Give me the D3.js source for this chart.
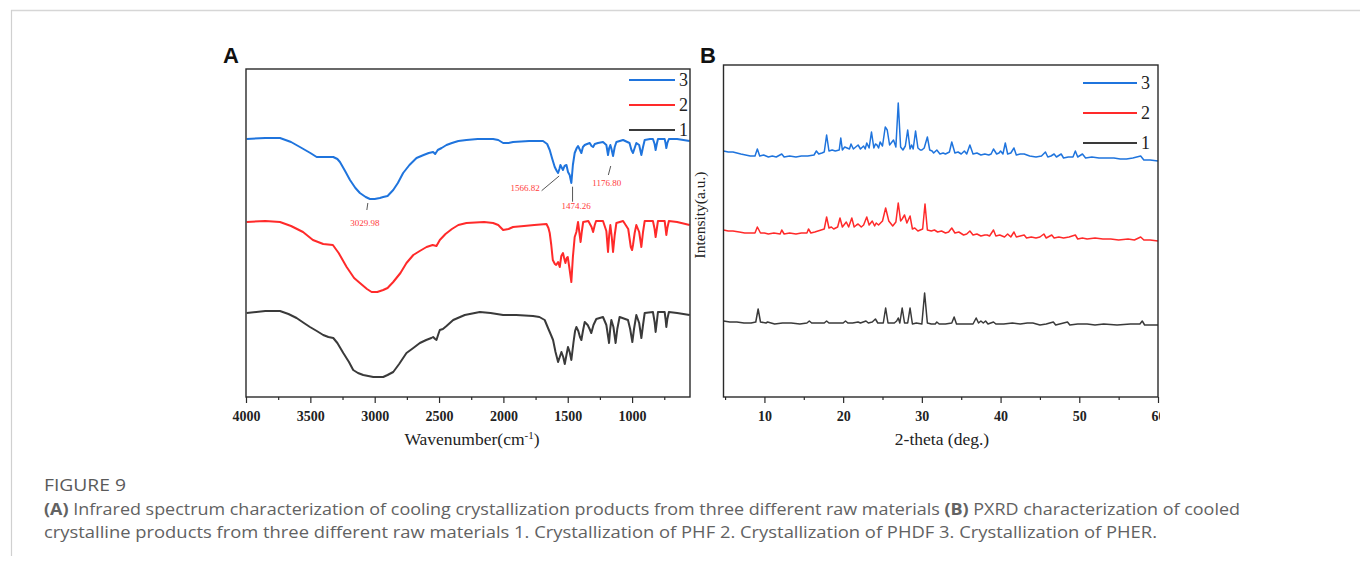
<!DOCTYPE html>
<html><head><meta charset="utf-8">
<script src="https://cdn.jsdelivr.net/npm/d3@7"></script>
<style>
html,body{margin:0;padding:0;background:#fff;}
svg{display:block;}
</style></head>
<body>
<svg id="chart" width="1360" height="563"></svg>
<script>
// ---------------- DATA ----------------
// Panel A: FT-IR spectra, [wavenumber (cm-1), intensity (a.u., offset)]
const irSeries3 = [[3995,258],[3850,259],[3736,259],[3650,255],[3581,250],[3500,244],[3451,240],[3380,240],[3322,240],[3290,238],[3270,235],[3230,226],[3192,217],[3150,209],[3115,204],[3070,200],[3037,198],[3000,198],[2960,199],[2934,200],[2900,201],[2856,207],[2820,214],[2779,224],[2730,232],[2675,239],[2620,242],[2580,244],[2546,245],[2530,243],[2510,247],[2480,249],[2442,252],[2400,254],[2350,256],[2287,257],[2200,258],[2080,258],[2040,257],[2002,254],[1960,254],[1925,255],[1800,256],[1692,256],[1660,253],[1640,247],[1620,238],[1601,230],[1585,226],[1575,224],[1565,228],[1557,232],[1545,229],[1537,227],[1525,231],[1510,232],[1498,225],[1485,222],[1472,214],[1460,232],[1446,244],[1430,249],[1420,251],[1405,247],[1394,244],[1382,250],[1368,252],[1350,253],[1329,254],[1315,251],[1303,250],[1290,253],[1265,254],[1226,255],[1200,252],[1187,242],[1178,249],[1169,252],[1160,248],[1148,241],[1135,250],[1122,255],[1070,257],[1020,254],[1005,247],[993,244],[980,249],[967,254],[945,252],[928,242],[915,250],[902,257],[860,258],[838,258],[825,253],[817,247],[808,253],[799,258],[760,258],[747,258],[740,254],[734,249],[726,254],[714,258],[650,258],[553,256]];
const irSeries2 = [[3995,175],[3850,176],[3736,175],[3650,171],[3557,165],[3480,157],[3400,153],[3325,152],[3280,144],[3218,130],[3160,119],[3115,114],[3060,108],[3024,105],[2980,105],[2934,107],[2900,109],[2856,115],[2800,124],[2753,134],[2700,142],[2650,146],[2597,150],[2550,152],[2520,151],[2494,157],[2450,163],[2400,168],[2350,172],[2287,174],[2150,175],[2080,174],[2040,172],[2002,167],[1960,168],[1925,170],[1840,171],[1760,172],[1665,173],[1650,169],[1640,164],[1628,152],[1616,137],[1600,133],[1590,132],[1575,135],[1562,130],[1550,141],[1537,144],[1528,139],[1518,134],[1508,139],[1500,140],[1486,128],[1472,115],[1460,140],[1446,160],[1433,165],[1420,175],[1410,165],[1400,155],[1390,166],[1380,175],[1340,176],[1315,170],[1303,165],[1290,172],[1280,176],[1226,176],[1200,166],[1187,145],[1178,162],[1169,172],[1158,160],[1148,145],[1135,162],[1122,174],[1070,176],[1030,168],[1010,150],[1000,147],[993,152],[980,164],[967,172],[945,165],[928,150],[915,165],[902,176],[838,176],[825,168],[817,160],[808,168],[799,176],[747,176],[740,169],[734,162],[726,169],[714,176],[650,175],[553,172]];
const irSeries1 = [[3995,84],[3850,86],[3736,86],[3670,83],[3607,79],[3550,74],[3503,70],[3450,66],[3400,62],[3360,60],[3322,59],[3290,54],[3244,44],[3200,35],[3167,27],[3130,24],[3089,22],[3050,21],[3011,20],[2970,20],[2934,20],[2900,22],[2856,25],[2810,33],[2753,44],[2700,49],[2649,54],[2600,57],[2560,59],[2546,60],[2530,58],[2520,57],[2505,63],[2494,67],[2470,68],[2442,71],[2390,77],[2300,82],[2183,85],[2100,84],[2002,82],[1900,82],[1770,81],[1720,80],[1679,77],[1650,68],[1630,62],[1614,57],[1595,45],[1575,35],[1562,40],[1549,45],[1535,40],[1523,33],[1510,42],[1498,50],[1485,45],[1472,37],[1455,55],[1443,66],[1433,70],[1418,66],[1405,60],[1394,57],[1382,66],[1368,75],[1345,72],[1330,68],[1317,64],[1300,72],[1278,78],[1226,80],[1200,72],[1179,54],[1170,68],[1161,77],[1145,70],[1128,54],[1115,68],[1097,80],[1032,77],[1015,68],[998,55],[985,68],[967,82],[945,74],[928,59],[915,72],[902,84],[838,85],[825,75],[817,65],[808,75],[799,85],[747,85],[740,78],[734,70],[726,78],[714,85],[650,84],[553,82]];

// Panel B: PXRD patterns, [2-theta (deg), intensity (a.u., offset)]
const xrdSeries3 = [[4.8,246],[5.4,245],[6,245],[6.5,244],[7,243],[7.6,242],[8.2,241],[8.8,241],[9.1,248],[9.4,241],[9.9,242],[10.5,240],[11.0,241],[11.5,240],[12.2,243],[12.5,240],[13.2,241],[14,240],[14.7,241],[15.5,241],[16.3,242],[16.6,246],[16.9,243],[17.3,244],[17.6,245],[17.9,262],[18.2,246],[18.6,247],[19,246],[19.5,247],[19.7,259],[19.9,247],[20.2,250],[20.5,249],[20.8,248],[21.0,253],[21.3,248],[21.6,250],[21.9,252],[22.2,248],[22.6,251],[22.8,248],[23.0,254],[23.3,249],[23.6,265],[23.9,249],[24.1,253],[24.3,252],[24.5,249],[24.7,255],[25.0,251],[25.35,270],[25.6,267],[25.9,252],[26.1,254],[26.4,257],[26.7,250],[27.0,294],[27.3,250],[27.6,247],[27.9,251],[28.2,267],[28.5,248],[28.7,252],[28.9,248],[29.2,266],[29.5,249],[29.8,247],[30.0,247],[30.3,249],[30.7,260],[31.0,247],[31.3,246],[31.5,244],[31.9,247],[32.3,243],[32.7,244],[33.0,243],[33.5,245],[33.8,255],[34.2,244],[34.6,245],[35.0,243],[35.4,246],[35.7,243],[36.1,252],[36.5,243],[37.0,244],[37.5,242],[38.0,243],[38.5,242],[38.8,243],[39.1,248],[39.5,243],[39.8,244],[40.0,246],[40.3,243],[40.6,254],[40.9,243],[41.3,244],[41.7,249],[42.0,242],[42.5,243],[43.0,243],[43.7,241],[44.5,240],[45.2,241],[45.7,245],[46.0,240],[46.4,241],[46.8,243],[47.1,240],[47.7,243],[48.0,239],[48.6,240],[49.2,240],[49.5,246],[49.8,240],[50.4,243],[50.8,239],[51.6,240],[52.5,239],[53.3,239],[54.4,239],[55.2,238],[56,238],[56.8,239],[57.8,241],[58.2,237],[59.0,237],[60,236]];
const xrdSeries2 = [[4.8,167],[5.4,166],[6,166],[6.8,165],[7.5,164],[8.2,164],[8.8,164],[9.1,170],[9.5,164],[10.0,164],[10.5,163],[11.2,164],[12.0,163],[12.2,167],[12.5,163],[13.2,164],[14,163],[14.7,164],[15.4,164],[15.6,168],[15.9,164],[16.4,165],[16.8,166],[17.2,167],[17.6,168],[17.9,180],[18.2,169],[18.5,170],[18.8,168],[19.3,170],[19.6,179],[19.9,170],[20.1,172],[20.4,175],[20.7,170],[21.1,179],[21.4,170],[21.7,172],[21.9,173],[22.3,170],[22.6,172],[23.0,180],[23.3,172],[23.7,176],[24.0,171],[24.2,174],[24.5,172],[25.0,176],[25.4,189],[25.8,176],[26.0,174],[26.3,171],[26.7,175],[27.0,194],[27.3,176],[27.5,178],[27.8,182],[28.1,174],[28.5,181],[28.8,168],[29.1,169],[29.5,166],[29.8,167],[30.1,168],[30.4,193],[30.7,167],[31.2,166],[31.6,167],[32,165],[32.5,166],[33.0,164],[33.4,165],[33.8,169],[34.2,164],[34.7,165],[35.3,162],[35.7,163],[36.1,166],[36.5,162],[37.0,163],[37.5,161],[38.0,162],[38.3,162],[38.6,161],[39.1,167],[39.4,161],[39.9,162],[40.5,160],[40.9,163],[41.3,160],[41.7,165],[42.0,160],[42.5,161],[43.0,162],[43.3,159],[43.9,160],[44.5,159],[45.0,160],[45.5,163],[45.8,159],[46.5,162],[46.8,159],[47.4,160],[48,159],[48.7,160],[49.5,162],[49.8,158],[50.4,159],[51,158],[52,159],[53,158],[54,158],[55,157],[56.2,158],[57.0,157],[57.8,160],[58.2,157],[59,157],[60,156]];
const xrdSeries1 = [[4.8,76],[5.6,75],[6.5,75],[7.4,74],[8.3,74],[8.9,75],[9.2,88],[9.5,75],[10.2,74],[10.4,75],[11.3,73],[12.3,74],[13.4,74],[14.5,73],[15.4,74],[15.7,76],[16.0,74],[16.8,74],[17.6,74],[17.9,76],[18.2,74],[19.0,74],[20.0,74],[20.3,76],[20.6,74],[21.2,74],[21.9,75],[22.2,74],[22.9,76],[23.2,74],[23.7,75],[24.1,78],[24.4,74],[25.1,74],[25.4,89],[25.7,74],[26.1,74],[26.5,74],[26.8,76],[27.0,79],[27.2,74],[27.5,89],[27.8,74],[28.2,74],[28.5,89],[28.8,73],[29.3,74],[30.0,73],[30.35,104],[30.7,74],[31.2,73],[31.7,73],[31.9,75],[32.2,73],[33.0,73],[33.8,74],[34.1,80],[34.4,73],[35.4,73],[36.5,73],[36.9,79],[37.2,74],[37.5,76],[37.8,74],[38.1,76],[38.4,73],[39.1,75],[39.4,73],[40.4,73],[41.5,74],[42.5,73],[43.4,74],[44.1,74],[45,72],[45.8,73],[46.7,75],[47.0,72],[48.5,75],[48.8,72],[49.8,73],[51,73],[52,72],[53.1,73],[54.8,72],[56.5,73],[57.7,73],[58.0,76],[58.3,72],[59.2,72],[60,72]];

const seriesNames = ["3","2","1"];
const irTicks = [4000,3500,3000,2500,2000,1500,1000];
const irMinorTicks = [3750,3250,2750,2250,1750,1250,750];
const xrdTicks = [10,20,30,40,50,60];
const xrdMinorTicks = [5,15,25,35,45,55];
const peakLabels = ["3029.98","1566.82","1474.26","1176.80"];
const peakWavenumbers = [3029.98,1566.82,1474.26,1176.80];
const captionTitle = "FIGURE 9";

// ---------------- DRAW ----------------
const svg = d3.select("#chart");
const colors = {"3":"#1f74dd","2":"#ff2a2a","1":"#3a3a3a"};
const serif = "'Liberation Serif','Times New Roman',serif";
const sans = "'Open Sans','Noto Sans',sans-serif";

// page card border
svg.append("line").attr("x1",11).attr("x2",1360).attr("y1",10.5).attr("y2",10.5).attr("stroke","#d6d6d6").attr("stroke-width",1.5);
svg.append("line").attr("x1",11.5).attr("x2",11.5).attr("y1",10).attr("y2",556).attr("stroke","#d0d0d0").attr("stroke-width",1.2);

function panel(opts){
  const {x, y, data, ticks, minor, xlabel, clip} = opts;
  const g = svg.append("g");
  const [x0,x1] = x.range(), [y0,y1] = y.range();
  const line = d3.line().x(d=>x(d[0])).y(d=>y(d[1]));
  data.forEach((s,i)=>{
    g.append("path").datum(s).attr("d",line).attr("fill","none")
      .attr("stroke",colors[seriesNames[i]]).attr("stroke-width",opts.lw).attr("stroke-linejoin","round");
  });
  // frame
  g.append("rect").attr("x",x0).attr("y",y1).attr("width",x1-x0).attr("height",y0-y1)
    .attr("fill","none").attr("stroke","#2a2a2a").attr("stroke-width",1.4);
  // axis
  const ax = g.append("g").attr("transform",`translate(0,${y0})`)
    .call(d3.axisBottom(x).tickValues(ticks).tickSize(6).tickPadding(8).tickSizeOuter(0).tickFormat(d3.format("d")));
  ax.select(".domain").remove();
  ax.selectAll(".tick line").attr("stroke","#2a2a2a").attr("stroke-width",1.2);
  ax.selectAll("text").attr("font-family",serif).attr("font-weight","bold").attr("font-size",14).attr("fill","#222");
  const axm = g.append("g").attr("transform",`translate(0,${y0})`)
    .call(d3.axisBottom(x).tickValues(minor).tickSize(3).tickFormat(""));
  axm.select(".domain").remove();
  axm.selectAll(".tick line").attr("stroke","#2a2a2a").attr("stroke-width",1.2);
  if(clip){
    svg.append("clipPath").attr("id","clipB").append("rect").attr("x",0).attr("y",0).attr("width",clip).attr("height",563);
    ax.attr("clip-path","url(#clipB)");
  }
  g.append("text").attr("x",opts.labelX).attr("y",y0+48).attr("text-anchor","middle")
    .attr("font-family",serif).attr("font-size",17.5).attr("fill","#222").html(xlabel);
  // legend
  seriesNames.forEach((n,i)=>{
    const ly = opts.legY + i*opts.legStep;
    g.append("line").attr("x1",opts.legX).attr("x2",opts.legX+opts.legW).attr("y1",ly).attr("y2",ly)
      .attr("stroke",colors[n]).attr("stroke-width",2);
    g.append("text").attr("x",opts.legX+opts.legW+4).attr("y",ly+6).attr("font-family",serif)
      .attr("font-size",18).attr("fill","#222").text(n);
  });
  return g;
}

const xA = d3.scaleLinear().domain([4000,550]).range([246,690]);
const yA = d3.scaleLinear().domain([0,328]).range([397,69]);
panel({x:xA, y:yA, data:[irSeries3,irSeries2,irSeries1], ticks:irTicks, minor:irMinorTicks,
  xlabel:"Wavenumber(cm<tspan dy='-6' font-size='11'>-1</tspan><tspan dy='6'>)</tspan>", lw:2, labelX:472,
  legX:629, legW:46, legY:80, legStep:25});

const xB = d3.scaleLinear().domain([4.8,60]).range([723.5,1158]);
const yB = d3.scaleLinear().domain([0,332]).range([397,65]);
panel({x:xB, y:yB, data:[xrdSeries3,xrdSeries2,xrdSeries1], ticks:xrdTicks, minor:xrdMinorTicks,
  xlabel:"2-theta (deg.)", lw:1.5, clip:1160, labelX:942,
  legX:1083, legW:54, legY:83, legStep:30});

// y label
svg.append("text").attr("transform","translate(705,215) rotate(-90)").attr("text-anchor","middle")
  .attr("font-family",serif).attr("font-size",15.5).attr("fill","#222").text("Intensity(a.u.)");

// panel letters
svg.append("text").attr("x",223).attr("y",63).attr("font-family","'Liberation Sans',Arial,sans-serif")
  .attr("font-weight","bold").attr("font-size",22).attr("fill","#111").text("A");
svg.append("text").attr("x",700).attr("y",63).attr("font-family","'Liberation Sans',Arial,sans-serif")
  .attr("font-weight","bold").attr("font-size",22).attr("fill","#111").text("B");

// peak annotations on series 3 (panel A)
const annOff = [ // [line dx1, y1, dx2, y2, text dx, text y]
  [-3,203,-4,210,-6,226],
  [0,176,-17.5,190.7,-34,191],
  [1.5,186.7,1.5,201.7,5,209],
  [1.4,166,-1,175,-2.6,186]
];
peakWavenumbers.forEach((wn,i)=>{
  const cx = xA(wn), o = annOff[i];
  svg.append("line").attr("x1",cx+o[0]).attr("y1",o[1]).attr("x2",cx+o[2]).attr("y2",o[3])
    .attr("stroke","#444").attr("stroke-width",0.9);
  svg.append("text").attr("x",cx+o[4]).attr("y",o[5]).attr("text-anchor","middle")
    .attr("font-family",serif).attr("font-size",9).attr("fill","#ff3c3c").text(peakLabels[i]);
});

// caption
svg.append("text").attr("x",44).attr("y",491).attr("font-family",sans).attr("font-size",17)
  .attr("fill","#5a5a5a").attr("textLength",82).attr("lengthAdjust","spacingAndGlyphs").text(captionTitle);
const cap1 = svg.append("text").attr("x",44).attr("y",515).attr("font-family",sans).attr("font-size",16.5)
  .attr("fill","#626262").attr("textLength",1196).attr("lengthAdjust","spacingAndGlyphs");
cap1.append("tspan").attr("font-weight","bold").text("(A)");
cap1.append("tspan").text(" Infrared spectrum characterization of cooling crystallization products from three different raw materials ");
cap1.append("tspan").attr("font-weight","bold").text("(B)");
cap1.append("tspan").text(" PXRD characterization of cooled");
svg.append("text").attr("x",44).attr("y",538).attr("font-family",sans).attr("font-size",16.5).attr("fill","#626262")
  .attr("textLength",1113).attr("lengthAdjust","spacingAndGlyphs")
  .text("crystalline products from three different raw materials 1. Crystallization of PHF 2. Crystallization of PHDF 3. Crystallization of PHER.");
</script>
</body></html>
